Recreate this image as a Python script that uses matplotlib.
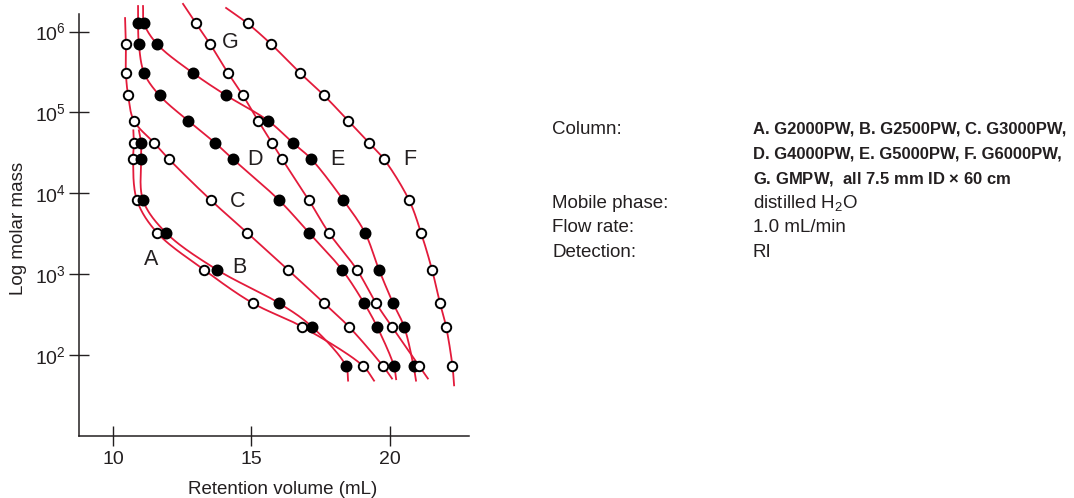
import matplotlib
matplotlib.use("Agg")
import matplotlib.pyplot as plt
import numpy as np

# standards (molar mass) shared by all columns
molar_mass = [1.26e6, 7.0e5, 3.07e5, 1.62e5, 7.9e4, 4.2e4, 2.64e4,
              8.2e3, 3.25e3, 1.13e3, 436, 223, 73]

nan = np.nan
# retention volume (mL) per column, nan where no point
vol_A = [nan, nan, nan, nan, nan, 10.74, 10.71, 10.85, 11.58, 13.28, 15.05, 16.83, 19.04]
vol_B = [nan, nan, nan, nan, nan, 11.00, 11.00, 11.07, 11.90, 13.75, 16.00, 17.19, 18.42]
vol_C = [nan, 10.45, 10.45, 10.53, 10.74, 11.47, 12.01, 13.53, 14.84, 16.32, 17.63, 18.53, 19.76]
vol_D = [10.89, 10.92, 11.11, 11.67, 12.70, 13.68, 14.33, 16.00, 17.08, 18.28, 19.08, 19.55, 20.16]
vol_E = [11.11, 11.58, 12.88, 14.09, 15.60, 16.50, 17.17, 18.33, 19.11, 19.62, 20.13, 20.53, 20.87]
vol_F = [14.86, 15.71, 16.76, 17.63, 18.50, 19.26, 19.80, 20.71, 21.14, 21.54, 21.83, 22.05, 22.28]
vol_G = [12.99, 13.50, 14.15, 14.69, 15.24, 15.74, 16.11, 17.08, 17.80, 18.82, 19.51, 20.09, 21.07]

# where each drawn curve begins and ends (volume, molar mass)
curve_start = {"A": (10.72, 6.0e4), "B": (10.92, 6.0e4), "C": (10.42, 1.47e6),
               "D": (10.89, 2.07e6), "E": (11.07, 2.07e6), "F": (14.08, 1.96e6),
               "G": (12.52, 2.2e6)}
curve_end = {"A": (19.44, 48), "B": (18.50, 48), "C": (20.09, 51), "D": (20.24, 50),
             "E": (20.96, 48), "F": (22.34, 42), "G": (21.39, 51)}

filled = {"A": False, "B": True, "C": False, "D": True, "E": True, "F": False, "G": False}
label_pos = {"A": (11.36, 1530), "B": (14.55, 1220), "C": (14.51, 7980),
             "D": (15.13, 2.64e4), "E": (18.10, 2.64e4), "F": (20.74, 2.64e4),
             "G": (14.22, 7.43e5)}

xticks = [10, 15, 20]
yticks = [1e2, 1e3, 1e4, 1e5, 1e6]
ytick_labels = [r"$\mathregular{10^{%d}}$" % k for k in range(2, 7)]

info_keys = ["Column:", "", "", "Mobile phase:", "Flow rate:", "Detection:"]
info_vals = ["A. G2000PW, B. G2500PW, C. G3000PW,",
             "D. G4000PW, E. G5000PW, F. G6000PW,",
             r"G. GMPW,  all 7.5 mm ID $\mathregular{\times}$ 60 cm",
             r"distilled H$\mathregular{_2}$O", "1.0 mL/min", "RI"]

RED = "#e31b3b"
INK = "#231f20"

plt.rcParams["font.family"] = ["Liberation Sans", "DejaVu Sans"]


def catmull(xs, ys, n=24):
    # centripetal Catmull-Rom in screen-like units (x: mL, y: decades)
    P = np.column_stack([np.asarray(xs) * 27.6, np.log10(ys) * 80.76])
    P = np.vstack([2 * P[0] - P[1], P, 2 * P[-1] - P[-2]])
    out = []
    for i in range(1, len(P) - 2):
        p0, p1, p2, p3 = P[i - 1], P[i], P[i + 1], P[i + 2]
        t0 = 0.0
        t1 = t0 + np.linalg.norm(p1 - p0) ** 0.5
        t2 = t1 + np.linalg.norm(p2 - p1) ** 0.5
        t3 = t2 + np.linalg.norm(p3 - p2) ** 0.5
        t = np.linspace(t1, t2, n)[:, None]
        a1 = (t1 - t) / (t1 - t0) * p0 + (t - t0) / (t1 - t0) * p1
        a2 = (t2 - t) / (t2 - t1) * p1 + (t - t1) / (t2 - t1) * p2
        a3 = (t3 - t) / (t3 - t2) * p2 + (t - t2) / (t3 - t2) * p3
        b1 = (t2 - t) / (t2 - t0) * a1 + (t - t0) / (t2 - t0) * a2
        b2 = (t3 - t) / (t3 - t1) * a2 + (t - t1) / (t3 - t1) * a3
        out.append((t2 - t) / (t2 - t1) * b1 + (t - t1) / (t2 - t1) * b2)
    out = np.vstack(out)
    return out[:, 0] / 27.6, 10 ** (out[:, 1] / 80.76)


W, H = 1074, 498
fig = plt.figure(figsize=(W / 100, H / 100), dpi=100)
ax = fig.add_axes([78.7 / W, (H - 435.7) / H, (469 - 78.7) / W, (435.7 - 2) / H])
ax.set_yscale("log")
ax.set_xlim(8.74, 22.88)
ax.set_ylim(10, 10 ** 6.366)

columns = {"A": vol_A, "B": vol_B, "C": vol_C, "D": vol_D, "E": vol_E, "F": vol_F, "G": vol_G}
mm = np.array(molar_mass)
for key, vol in columns.items():
    v = np.array(vol)
    ok = ~np.isnan(v)
    xs = [curve_start[key][0]] + list(v[ok]) + [curve_end[key][0]]
    ys = [curve_start[key][1]] + list(mm[ok]) + [curve_end[key][1]]
    cx, cy = catmull(xs, ys)
    ax.plot(cx, cy, color=RED, lw=1.3, zorder=2, clip_on=False)
    ax.plot(v[ok], mm[ok], "o", ms=7.2 if filled[key] else 6.8, mew=1.4,
            mec="black", mfc="black" if filled[key] else "white", zorder=3, clip_on=False)
    lx, ly = label_pos[key]
    ax.text(lx, ly, key, fontsize=15.5, ha="center", va="center", color=INK)

for s in ["top", "right"]:
    ax.spines[s].set_visible(False)
ax.spines["left"].set_bounds(10, 10 ** 6.214)
ax.spines["bottom"].set_bounds(8.74, 22.88)
for s in ["left", "bottom"]:
    ax.spines[s].set_linewidth(1.1)
    ax.spines[s].set_color(INK)

ax.set_xticks(xticks)
ax.set_yticks(yticks, labels=ytick_labels)
ax.minorticks_off()
ax.tick_params(axis="x", direction="inout", length=14, width=1.0, color=INK,
               labelsize=14, pad=4, labelcolor=INK)
ax.tick_params(axis="y", direction="inout", length=15, width=1.0, color=INK,
               labelsize=14, pad=1.5, labelcolor=INK)

fig.text(283 / W, 1 - 489 / H, "Retention volume (mL)", fontsize=13.5,
         ha="center", va="center", color=INK)
fig.text(18.5 / W, 1 - 228 / H, "Log molar mass", fontsize=13.5, rotation=90,
         ha="center", va="center", color=INK)

base = 134
for i, (k, val) in enumerate(zip(info_keys, info_vals)):
    y = 1 - (base + 24.6 * i) / H
    if k:
        fig.text(552 / W, y, k, fontsize=13.5, va="baseline", ha="left", color=INK)
    bold = i < 3
    fig.text(753 / W, y, val, fontsize=12 if bold else 13.5, va="baseline", ha="left",
             color=INK, fontweight="bold" if bold else "normal")

fig.savefig("out.png", dpi=100)
